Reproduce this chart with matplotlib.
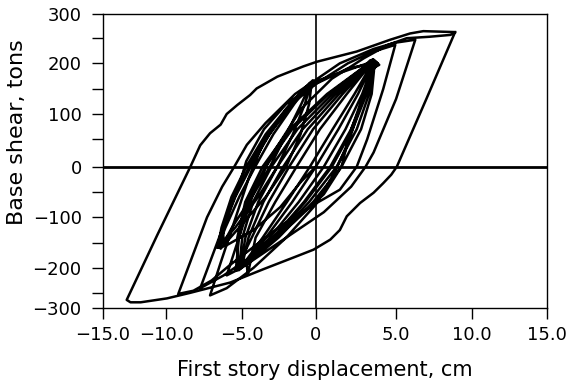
import numpy as np
import matplotlib.pyplot as plt

# ---- data (displacement in cm, base shear in tons) ----
# first small cycles (left lens)
lens_small_x = [0.0, -1.0, -2.4, -4.2, -6.0, -6.6,
                -6.34, -5.68, -4.7, -3.39, -1.74, -0.80, -0.2,
                -0.33, -0.45, -1.03, -2.0, -3.38, -5.17, -6.4,
                -6.21, -5.43, -4.4, -3.13, -1.60, -0.75, -0.4,
                -0.43, -0.74, -1.55, -2.6, -3.89, -5.43, -6.6,
                -6.08, -5.17, -4.1, -2.87, -1.46, -0.70, -0.3,
                -0.52, -0.98, -1.99, -3.1, -4.32, -5.65, -6.2,
                -6.25, -5.51, -4.5, -3.22, -1.65, -0.77, 0.0]
lens_small_y = [0, -30, -80, -125, -155, -160,
                -120, -60, 0, 60, 120, 150, 167,
                150, 120, 60, 0, -60, -120, -162,
                -120, -60, 0, 60, 120, 150, 162,
                150, 120, 60, 0, -60, -120, -160,
                -120, -60, 0, 60, 120, 150, 160,
                150, 120, 60, 0, -60, -120, -150,
                -120, -60, 0, 60, 120, 150, 165]

# larger cycles (right lens)
lens_large_x = [3.5, 3.50, 3.16, 2.29, 1.0, -0.71, -2.84, -4.44, -5.4,
                -5.19, -4.60, -3.4, -1.60, 0.81, 2.69, 3.4, 3.75,
                3.49, 3.11, 2.2, 0.9, -0.8, -2.89, -4.45, -5.2,
                -4.97, -4.24, -3.0, -1.24, 1.03, 2.76, 3.55, 3.85,
                3.56, 3.32, 2.55, 1.3, -0.45, -2.68, -4.38, -5.0,
                -4.55, -3.54, -2.2, -0.54, 1.45, 2.91, 3.5,
                3.41, 2.89, 1.85, 0.5, -1.15, -3.11, -4.53, -5.4,
                -4.33, -3.18, -1.8, -0.18, 1.67, 2.98, 3.4,
                3.32, 2.63, 1.41, 0.0, -1.59, -3.37, -4.62, -5.1,
                -4.76, -3.89, -2.6, -0.89, 1.24, 2.84, 3.6, 3.95,
                3.24, 2.41, 1.05, -0.4, -1.95, -3.59, -4.70, -4.6,
                -4.07, -2.74, -1.3, 0.26, 1.93, 3.08, 3.6,
                3.62, 3.48, 2.82, 1.6, -0.18, -2.52, -4.32, -5.3,
                -5.30, -4.77, -3.6, -1.77, 0.70, 2.65, 3.6]
lens_large_y = [203, 185, 140, 70, 0, -70, -140, -185, -205,
                -140, -70, 0, 70, 140, 185, 206, 200,
                185, 140, 70, 0, -70, -140, -185, -205,
                -140, -70, 0, 70, 140, 185, 208, 200,
                185, 140, 70, 0, -70, -140, -185, -198,
                -140, -70, 0, 70, 140, 185, 200,
                185, 140, 70, 0, -70, -140, -185, -205,
                -140, -70, 0, 70, 140, 185, 198,
                185, 140, 70, 0, -70, -140, -185, -200,
                -140, -70, 0, 70, 140, 185, 207, 197,
                185, 140, 70, 0, -70, -140, -185, -213,
                -140, -70, 0, 70, 140, 185, 203,
                185, 140, 70, 0, -70, -140, -185, -205,
                -140, -70, 0, 70, 140, 185, 205]

# medium cycles
mid_cycles_x = [3.1, 2.1, 1.6, 0.5, -1.5, -4.0, -6.2, -7.75,
                -7.0, -6.0, -5.2, -4.7, -3.5, -2.0, 0.0, 2.0, 3.6,
                3.0, 2.1, 1.2, 0.0, -2.0, -4.2, -6.0, -7.1,
                -6.4, -5.4, -4.5, -3.6, -2.0, 0.0, 2.0, 3.5, 4.95,
                4.2, 3.2, 2.55, 1.5, 0.06, -2.4, -4.5, -5.8, -7.0, -8.2, -9.2]
mid_cycles_y = [150, 60, 0, -55, -110, -170, -215, -240,
                -180, -100, -40, 10, 70, 120, 160, 190, 200,
                140, 50, -10, -75, -140, -200, -240, -257,
                -190, -100, -20, 40, 110, 160, 200, 222, 236,
                150, 50, 0, -46, -72, -118, -165, -195, -225, -245, -252]

# second largest loop
second_loop_x = [-8.3, -7.3, -6.3, -5.5, -4.66, -3.4, -1.4, -0.3, 1.5, 3.6, 4.9, 6.27,
                 5.0, 3.6, 3.1, 2.2, 0.5, -2.5, -5.0, -6.0,
                 -5.3, -4.3, -3.0, -1.0, 1.0, 3.0, 4.5, 5.7, 7.2, 8.6, 8.9]
second_loop_y = [-180, -100, -40, 0, 40, 82, 140, 162, 200, 228, 240, 246,
                 130, 26, 0, -40, -90, -150, -200, -215,
                 -150, -60, 20, 110, 170, 210, 236, 249, 252, 256, 262]

# largest (final) loop
outer_loop_x = [7.0, 5.05, 4.7, 4.2, 3.6, 2.76, 1.93, 1.5, 0.9, -0.16, -1.28, -3.55,
                -5.77, -8.4, -9.95, -12.0, -12.8, -13.1,
                -10.7, -8.4, -7.75, -7.1, -6.4, -6.0, -5.3, -4.44, -4.0, -2.6,
                -0.84, 0.06, 2.55, 4.63, 5.92, 6.8, 8.9]
outer_loop_y = [130, 0, -16, -33, -52, -72, -98, -125, -144, -164, -177, -203,
                -229, -249, -267, -280, -280, -272,
                -135, 0, 39, 62, 79, 100, 118, 138, 151, 174,
                194, 203, 223, 246, 259, 264, 262]

x_ticks = [-15, -10, -5, 0, 5, 10, 15]
x_labels = ['\u221215.0', '\u221210.0', '\u22125.0', '0', '5.0', '10.0', '15.0']
y_ticks = [-300, -200, -100, 0, 100, 200, 300]
y_labels = ['\u2212300', '\u2212200', '\u2212100', '0', '100', '200', '300']
y_minor = [-250, -150, -50, 50, 150, 250]

# the scanned axes are not quite linear: knots of the scale (value -> pixel)
x_knots = [-15, -10, -5, 0, 5, 10, 15]
x_knot_px = [102.3, 166.0, 241.7, 315.7, 396.0, 471.7, 546.7]
y_knots = [-300, -250, -200, -150, -100, -50, 0, 50, 100, 150, 200, 250, 300]
y_knot_px = [-308.3, -293.3, -267.7, -242.7, -217.3, -191.7, -166.7,
             -139.3, -114.0, -89.0, -63.3, -37.7, -14.3]


def fwd_x(v):
    return np.interp(v, x_knots, x_knot_px)


def inv_x(p):
    return np.interp(p, x_knot_px, x_knots)


def fwd_y(v):
    return np.interp(v, y_knots, y_knot_px)


def inv_y(p):
    return np.interp(p, y_knot_px, y_knots)


disp = np.concatenate([lens_small_x, lens_large_x, mid_cycles_x, second_loop_x, outer_loop_x])
shear = np.concatenate([lens_small_y, lens_large_y, mid_cycles_y, second_loop_y, outer_loop_y])

plt.rcParams['font.family'] = 'DejaVu Sans'

fig = plt.figure(figsize=(5.66, 3.86), dpi=100)
ax = fig.add_axes([102.5 / 566, 1 - 308.3 / 386, (546.7 - 102.5) / 566, (308.3 - 14.3) / 386])
ax.set_xscale('function', functions=(fwd_x, inv_x))
ax.set_yscale('function', functions=(fwd_y, inv_y))

ax.plot(disp, shear, color='black', lw=1.8, solid_joinstyle='round')
ax.axhline(0, color='black', lw=2.0)
ax.axvline(0, color='black', lw=1.2)

ax.set_xlim(-15, 15)
ax.set_ylim(-300, 300)
ax.set_xticks(x_ticks, labels=x_labels)
ax.set_yticks(y_ticks, labels=y_labels)
ax.set_yticks(y_minor, minor=True)
ax.xaxis.set_minor_locator(plt.NullLocator())

ax.tick_params(which='both', direction='out', length=8, width=1.0, labelsize=13)
ax.tick_params(axis='x', pad=5)
ax.tick_params(axis='y', which='both', pad=7)
for s in ax.spines.values():
    s.set_linewidth(1.0)

ax.set_xlabel('First story displacement, cm', fontsize=15)
ax.set_ylabel('Base shear, tons', fontsize=16)
ax.xaxis.set_label_coords(0.5, -0.175)
ax.yaxis.set_label_coords(-0.17, 0.6)

fig.savefig('out.png', dpi=100)
